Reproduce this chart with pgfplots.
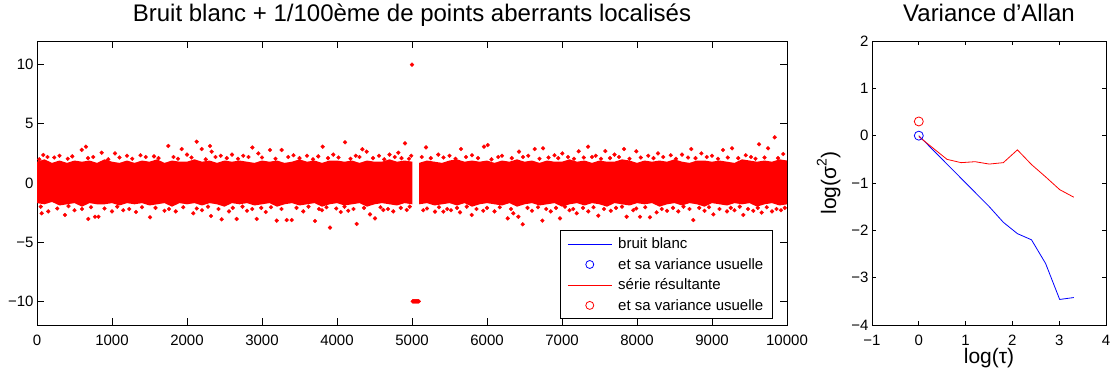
\documentclass[border=0pt]{standalone}
\usepackage{fontspec}
\setmainfont{Liberation Sans}
\usepackage{pgfplots}
\usepackage{pgfplotstable}
\pgfplotsset{compat=1.18}
\usepgfplotslibrary{fillbetween}

% dense core of the white noise cloud (upper / lower edge)
\pgfplotstableread{
x up lo
0 1.8 -1.7
100 2.0 -1.8
200 1.7 -1.6
300 1.9 -1.9
400 1.7 -1.8
500 1.9 -1.7
600 1.8 -2.0
700 1.9 -1.7
800 1.7 -1.8
900 2.0 -1.8
1000 1.8 -1.7
1100 1.7 -1.9
1200 1.9 -1.7
1300 1.7 -1.8
1400 1.9 -1.7
1500 1.8 -1.9
1600 2.0 -1.8
1700 1.7 -1.7
1800 1.9 -2.0
1900 1.8 -1.7
2000 1.8 -1.8
2100 2.0 -1.7
2200 1.8 -1.9
2300 1.9 -1.7
2400 1.7 -1.8
2500 1.9 -2.0
2600 1.8 -1.7
2700 1.9 -1.8
2800 1.8 -1.7
2900 1.7 -1.9
3000 1.9 -1.8
3100 1.8 -1.7
3200 1.9 -2.0
3300 1.7 -1.8
3400 1.8 -1.7
3500 2.0 -1.9
3600 1.8 -1.8
3700 1.9 -1.7
3800 1.7 -2.0
3900 1.9 -1.8
4000 1.9 -1.7
4100 1.8 -1.9
4200 1.9 -1.8
4300 1.7 -1.7
4400 1.9 -2.0
4500 1.8 -1.8
4600 1.8 -1.7
4700 2.0 -1.8
4800 1.8 -1.9
4900 1.9 -1.7
5005 1.8 -1.8
}\bandleft

\pgfplotstableread{
x up lo
5095 1.7 -1.8
5200 1.9 -1.7
5300 1.8 -1.9
5400 1.7 -1.8
5500 1.9 -1.7
5600 2.0 -1.9
5700 1.8 -1.7
5800 1.9 -2.0
5900 1.8 -1.8
6000 1.9 -1.7
6100 1.7 -1.8
6200 1.9 -1.9
6300 1.8 -1.7
6400 2.0 -2.0
6500 1.8 -1.8
6600 1.9 -1.7
6700 1.7 -1.9
6800 1.9 -1.8
6900 1.8 -1.7
7000 1.8 -2.0
7100 2.0 -1.8
7200 1.8 -1.7
7300 1.9 -1.9
7400 1.7 -1.7
7500 1.9 -1.8
7600 1.8 -2.0
7700 1.8 -1.7
7800 2.0 -1.8
7900 1.9 -1.9
8000 1.7 -1.7
8100 1.9 -1.8
8200 1.8 -1.7
8300 1.9 -2.0
8400 1.8 -1.8
8500 2.0 -1.7
8600 1.8 -1.9
8700 1.7 -1.7
8800 1.9 -1.8
8900 1.9 -2.0
9000 1.8 -1.7
9100 1.9 -1.8
9200 1.8 -1.9
9300 1.7 -1.7
9400 2.0 -1.8
9500 1.9 -1.7
9600 1.8 -2.0
9700 1.9 -1.8
9800 1.8 -1.7
9900 2.0 -1.9
10000 1.9 -1.8
}\bandright

% scattered points outside the core
\pgfplotstableread{
x y
84 2.37
140 2.2
300 2.3
596 2.8
653 3.07
862 2.56
1040 2.5
1200 2.3
1380 2.35
1560 2.25
1751 3.13
1929 2.87
2000 2.4
2129 3.49
2196 2.87
2307 3.13
2329 2.65
2450 2.3
2600 2.4
2750 2.3
2871 3.0
2951 2.5
3107 2.79
3262 2.79
3420 2.35
3600 2.3
3809 3.07
3950 2.4
4107 3.44
4250 2.3
4338 2.85
4396 2.65
4560 2.3
4700 2.4
4818 2.56
4907 3.35
4990 2.3
5187 3.01
5350 2.4
5500 2.3
5653 2.87
5800 2.35
5960 3.07
6009 3.21
6200 2.3
6427 2.65
6550 2.3
6636 2.87
6747 2.93
6900 2.35
7004 2.5
7222 2.68
7347 3.07
7450 2.3
7578 2.7
7700 2.4
7827 2.87
7991 2.68
8150 2.3
8280 2.5
8450 2.35
8600 2.4
8724 2.87
8858 2.5
9000 2.3
9147 2.79
9267 2.93
9450 2.35
9627 3.27
9747 2.93
9836 3.86
9950 2.45
62 -2.56
150 -2.4
373 -2.7
500 -2.3
684 -3.04
773 -2.85
820 -2.85
1000 -2.4
1150 -2.3
1320 -2.45
1507 -2.9
1700 -2.35
1850 -2.4
2084 -2.56
2200 -2.3
2320 -2.79
2462 -3.07
2560 -2.4
2662 -3.04
2800 -2.35
2929 -3.04
3050 -2.45
3196 -3.18
3329 -3.13
3396 -3.13
3550 -2.4
3707 -3.21
3800 -2.3
3907 -3.77
4050 -2.45
4150 -2.35
4262 -3.46
4440 -2.65
4507 -2.99
4618 -2.28
4750 -2.4
4929 -2.28
5150 -2.3
5307 -2.42
5418 -2.42
5520 -2.3
5640 -2.48
5796 -2.7
5950 -2.35
6100 -2.4
6276 -2.99
6351 -2.56
6418 -2.85
6476 -3.49
6600 -2.35
6738 -3.18
6850 -2.4
6973 -2.99
7100 -2.3
7196 -2.56
7350 -2.4
7484 -2.76
7650 -2.35
7862 -2.85
7950 -2.3
8040 -2.85
8173 -2.9
8262 -2.48
8400 -2.35
8550 -2.4
8751 -3.13
8900 -2.35
9018 -2.65
9200 -2.4
9300 -2.3
9418 -2.7
9550 -2.35
9662 -2.5
9800 -2.4
9920 -2.3
}\fringe

% points at the edge of the core
\pgfplotstableread{
x y
30 2.0
230 2.15
410 2.05
470 2.25
680 2.1
750 2.2
950 2.0
1100 2.15
1270 2.05
1450 2.2
1620 2.1
1820 2.2
1880 2.05
2060 2.15
2250 2.0
2380 2.2
2530 2.1
2680 2.05
2820 2.2
3000 2.15
3180 2.05
3350 2.2
3500 2.1
3680 2.0
3750 2.25
3880 2.1
4020 2.15
4180 2.05
4300 2.2
4480 2.1
4630 2.0
4770 2.2
4860 2.1
4960 2.05
5130 2.2
5250 2.1
5420 2.15
5580 2.05
5720 2.2
5880 2.1
6060 2.0
6150 2.2
6330 2.1
6480 2.2
6700 2.05
6820 2.15
6950 2.1
7080 2.2
7160 2.05
7290 2.15
7400 2.2
7520 2.05
7640 2.1
7760 2.2
7900 2.05
8050 2.15
8220 2.1
8350 2.2
8520 2.05
8680 2.15
8780 2.1
8930 2.2
9080 2.05
9210 2.15
9350 2.1
9520 2.2
9580 2.05
9700 2.15
9880 2.1
50 -2.0
270 -2.15
420 -1.95
600 -2.2
720 -2.05
900 -2.15
1070 -2.0
1230 -2.2
1400 -2.05
1580 -2.1
1760 -2.2
1950 -2.05
2130 -2.15
2280 -2.0
2420 -2.2
2610 -2.1
2740 -2.0
2870 -2.2
2990 -2.1
3120 -2.05
3260 -2.2
3460 -2.1
3620 -2.0
3760 -2.2
3860 -2.05
3990 -2.15
4100 -2.0
4220 -2.2
4360 -2.1
4580 -2.05
4680 -2.2
4850 -2.1
4970 -2.0
5200 -2.15
5360 -2.05
5470 -2.2
5600 -2.1
5730 -2.0
5860 -2.2
6000 -2.1
6170 -2.05
6320 -2.2
6540 -2.1
6680 -2.05
6790 -2.2
6920 -2.1
7040 -2.0
7150 -2.2
7280 -2.1
7420 -2.05
7560 -2.2
7720 -2.1
7800 -2.0
7990 -2.15
8110 -2.05
8330 -2.2
8480 -2.1
8620 -2.0
8700 -2.2
8830 -2.1
8960 -2.05
9100 -2.2
9250 -2.1
9370 -2.0
9480 -2.2
9610 -2.1
9730 -2.05
9860 -2.2
9970 -2.1
}\edge

% localised outliers
\pgfplotstableread{
x y
5000 10
5010 -10
5020 -10
5030 -10
5040 -10
5050 -10
5060 -10
5070 -10
5080 -10
5090 -10
}\outliers

% Allan variance, tau = 2^k
\pgfplotstableread{
x blanc serie
0 0 -0.02
0.301 -0.30 -0.26
0.602 -0.60 -0.50
0.903 -0.90 -0.57
1.204 -1.20 -0.55
1.505 -1.50 -0.60
1.806 -1.83 -0.57
2.107 -2.07 -0.30
2.408 -2.20 -0.61
2.709 -2.70 -0.87
3.010 -3.46 -1.14
3.311 -3.42 -1.30
}\allan

\begin{document}
\begin{tikzpicture}
\pgfplotsset{
  matlab/.style={
    scale only axis,
    tick align=inside,
    scaled ticks=false,
    axis line style={line width=0.9pt},
    major tick style={line width=0.8pt, black},
    tick label style={font=\fontsize{15}{15}\selectfont},
    xticklabel style={anchor=base, yshift=-20pt},
    title style={font=\fontsize{24}{24}\selectfont, at={([yshift=14pt]axis description cs:0.5,1)}, anchor=base},
    label style={font=\fontsize{21}{21}\selectfont},
  },
}

\begin{axis}[matlab,
    at={(37pt,53pt)}, anchor=south west,
    width=750pt, height=284pt,
    xmin=0, xmax=10000, ymin=-12, ymax=12,
    xtick={0,1000,...,10000},
    xticklabels={0,1000,2000,3000,4000,5000,6000,7000,8000,9000,10000},
    ytick={-10,-5,0,5,10},
    yticklabels={−10,−5,0,5,10},
    major tick length=7pt,
    title={Bruit blanc + 1/100ème de points aberrants localisés},
    legend cell align=left,
    legend image code/.code={\draw[mark repeat=2,mark phase=2,#1] plot coordinates {(0pt,0pt) (22pt,0pt) (44pt,0pt)};
      \path (48pt,0pt);},
    legend style={at={(0.981,0.021)}, anchor=south east, draw=black, line width=0.9pt,
      font=\fontsize{15}{15}\selectfont, row sep=4pt, inner xsep=7pt, inner ysep=5pt},
  ]
\addlegendimage{blue, line width=0.8pt}
\addlegendentry{bruit blanc}
\addlegendimage{blue, only marks, mark=o, mark size=4pt, mark options={line width=0.8pt}}
\addlegendentry{et sa variance usuelle}
\addlegendimage{red, line width=0.8pt}
\addlegendentry{série résultante}
\addlegendimage{red, only marks, mark=o, mark size=4pt, mark options={line width=0.8pt}}
\addlegendentry{et sa variance usuelle}

\addplot[name path=lu, draw=none, forget plot] table[x=x, y=up] {\bandleft};
\addplot[name path=ll, draw=none, forget plot] table[x=x, y=lo] {\bandleft};
\addplot[red, forget plot] fill between[of=lu and ll];
\addplot[name path=ru, draw=none, forget plot] table[x=x, y=up] {\bandright};
\addplot[name path=rl, draw=none, forget plot] table[x=x, y=lo] {\bandright};
\addplot[red, forget plot] fill between[of=ru and rl];
\addplot[red, only marks, mark=*, mark size=1.9pt, forget plot] table[x=x, y=y] {\edge};
\addplot[red, only marks, mark=*, mark size=1.9pt, forget plot] table[x=x, y=y] {\fringe};
\addplot[red, only marks, mark=*, mark size=1.9pt, forget plot] table[x=x, y=y] {\outliers};
\end{axis}

\begin{axis}[matlab,
    at={(872pt,53pt)}, anchor=south west,
    width=234pt, height=284pt,
    xmin=-1, xmax=4, ymin=-4, ymax=2,
    xtick={-1,0,1,2,3,4},
    xticklabels={−1,0,1,2,3,4},
    ytick={-4,-3,-2,-1,0,1,2},
    yticklabels={−4,−3,−2,−1,0,1,2},
    major tick length=4pt,
    title={Variance d’Allan},
    xlabel={log(τ)},
    ylabel={log(σ\raisebox{0.45em}{\fontsize{14}{14}\selectfont 2})},
    xlabel style={at={([yshift=-38pt]axis description cs:0.5,0)}, anchor=base},
    ylabel style={at={([xshift=-36pt]axis description cs:0,0.5)}, anchor=base},
  ]
\addplot[blue, line width=0.8pt] table[x=x, y=blanc] {\allan};
\addplot[red, line width=0.8pt] table[x=x, y=serie] {\allan};
\addplot[blue, only marks, mark=o, mark size=4.5pt, mark options={line width=0.8pt}] coordinates {(0,0)};
\addplot[red, only marks, mark=o, mark size=4.5pt, mark options={line width=0.8pt}] coordinates {(0,0.30)};
\end{axis}

\pgfresetboundingbox
\useasboundingbox (0,0) rectangle (1116pt,378pt);
\end{tikzpicture}
\end{document}
